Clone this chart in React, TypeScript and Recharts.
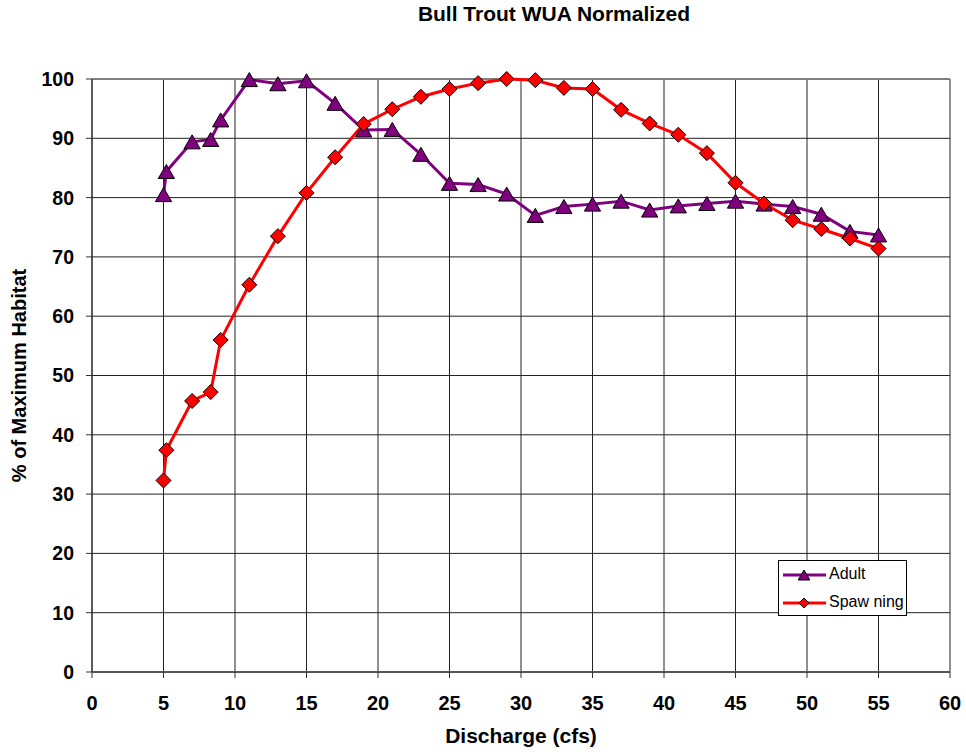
import { LineChart, Line, XAxis, YAxis, CartesianGrid, ReferenceLine, Label } from 'recharts';

const discharge = [5, 5.2, 7, 8.3, 9, 11, 13, 15, 17, 19, 21, 23, 25, 27, 29, 31, 33, 35, 37, 39, 41, 43, 45, 47, 49, 51, 53, 55];
const adult = [80.5, 84.4, 89.4, 89.8, 93.1, 99.9, 99.2, 99.7, 95.9, 91.4, 91.5, 87.3, 82.4, 82.2, 80.6, 77.0, 78.5, 78.9, 79.4, 77.9, 78.6, 79.0, 79.4, 78.9, 78.5, 77.2, 74.3, 73.7];
const spawning = [32.3, 37.4, 45.7, 47.2, 56.0, 65.3, 73.5, 80.8, 86.8, 92.4, 94.9, 97.0, 98.3, 99.3, 100, 99.8, 98.5, 98.3, 94.8, 92.5, 90.6, 87.5, 82.5, 79.0, 76.2, 74.7, 73.1, 71.4];
const xTicks = [0, 5, 10, 15, 20, 25, 30, 35, 40, 45, 50, 55, 60];
const yTicks = [0, 10, 20, 30, 40, 50, 60, 70, 80, 90, 100];

const ADULT_COLOR = '#800080';
const SPAWN_COLOR = '#ff0000';
const FONT = '"Liberation Sans", Arial, sans-serif';

const data = discharge.map((q, i) => ({ q, adult: adult[i], spawning: spawning[i] }));

const triangle = (cx: number, cy: number, s: number) =>
  `M${cx},${cy - s * 0.5} L${cx + s * 0.58},${cy + s * 0.5} L${cx - s * 0.58},${cy + s * 0.5} Z`;
const diamond = (cx: number, cy: number, s: number) =>
  `M${cx},${cy - s} L${cx + s},${cy} L${cx},${cy + s} L${cx - s},${cy} Z`;

const TriangleDot = (props: any) => {
  const { cx, cy, index } = props;
  if (cx == null || cy == null) return <g key={`t${index}`} />;
  return <path key={`t${index}`} d={triangle(cx, cy, 14)} fill={ADULT_COLOR} stroke="#000" strokeWidth={1} />;
};

const DiamondDot = (props: any) => {
  const { cx, cy, index } = props;
  if (cx == null || cy == null) return <g key={`d${index}`} />;
  return <path key={`d${index}`} d={diamond(cx, cy, 7.5)} fill={SPAWN_COLOR} stroke="#000" strokeWidth={1} />;
};

// legend box drawn over the plot, like the Excel one
const LegendBox = () => (
  <div style={{ position: 'absolute', left: 778, top: 560, width: 127, height: 54, border: '1px solid #000', background: '#fff', fontFamily: FONT, fontSize: 16 }}>
    <svg width={50} height={54} style={{ position: 'absolute', left: 0, top: 0 }}>
      <line x1={4} y1={14} x2={47} y2={14} stroke={ADULT_COLOR} strokeWidth={3} />
      <path d={triangle(25, 14, 10)} fill={ADULT_COLOR} stroke="#000" strokeWidth={1} />
      <line x1={4} y1={42} x2={47} y2={42} stroke={SPAWN_COLOR} strokeWidth={3} />
      <path d={diamond(25, 42, 5)} fill={SPAWN_COLOR} stroke="#000" strokeWidth={1} />
    </svg>
    <div style={{ position: 'absolute', left: 50, top: 4 }}>Adult</div>
    <div style={{ position: 'absolute', left: 50, top: 32, whiteSpace: 'pre' }}>Spaw ning</div>
  </div>
);

export default function App() {
  return (
    <div style={{ position: 'absolute', left: 0, top: 0, width: 966, height: 752, background: '#fff', fontFamily: FONT }}>
      <div style={{ position: 'absolute', left: 354, width: 400, top: 2, textAlign: 'center', fontWeight: 'bold', fontSize: 21 }}>
        Bull Trout WUA Normalized
      </div>
      <LineChart width={966} height={752} data={data} margin={{ top: 79, right: 16, bottom: 0, left: 0 }}>
        <CartesianGrid stroke="#222" strokeWidth={1} horizontalValues={yTicks} verticalValues={xTicks} />
        <XAxis
          dataKey="q"
          type="number"
          domain={[0, 60]}
          ticks={xTicks}
          height={80}
          tickSize={6}
          tickMargin={18}
          stroke="#333"
          axisLine={{ stroke: '#555', strokeWidth: 2 }}
          tick={{ fill: '#000', fontSize: 20, fontWeight: 'bold', fontFamily: FONT }}
        >
          <Label value="Discharge (cfs)" position="insideBottom" offset={9} style={{ fill: '#000', fontSize: 21, fontWeight: 'bold', fontFamily: FONT }} />
        </XAxis>
        <YAxis
          type="number"
          domain={[0, 100]}
          ticks={yTicks}
          width={92}
          tickSize={6}
          tickMargin={12}
          stroke="#333"
          axisLine={{ stroke: '#222', strokeWidth: 1 }}
          tick={{ fill: '#000', fontSize: 19.5, fontWeight: 'bold', fontFamily: FONT }}
        >
          <Label value="% of Maximum Habitat" angle={-90} position="insideLeft" offset={19} style={{ textAnchor: 'middle', fill: '#000', fontSize: 20, fontWeight: 'bold', fontFamily: FONT }} />
        </YAxis>
        <ReferenceLine y={100} stroke="#808080" strokeWidth={2} />
        <Line
          dataKey="adult"
          name="Adult"
          type="linear"
          stroke={ADULT_COLOR}
          strokeWidth={3}
          dot={TriangleDot}
          activeDot={false}
          isAnimationActive={false}
        />
        <Line
          dataKey="spawning"
          name="Spawning"
          type="linear"
          stroke={SPAWN_COLOR}
          strokeWidth={3}
          dot={DiamondDot}
          activeDot={false}
          isAnimationActive={false}
        />
      </LineChart>
      <LegendBox />
    </div>
  );
}
